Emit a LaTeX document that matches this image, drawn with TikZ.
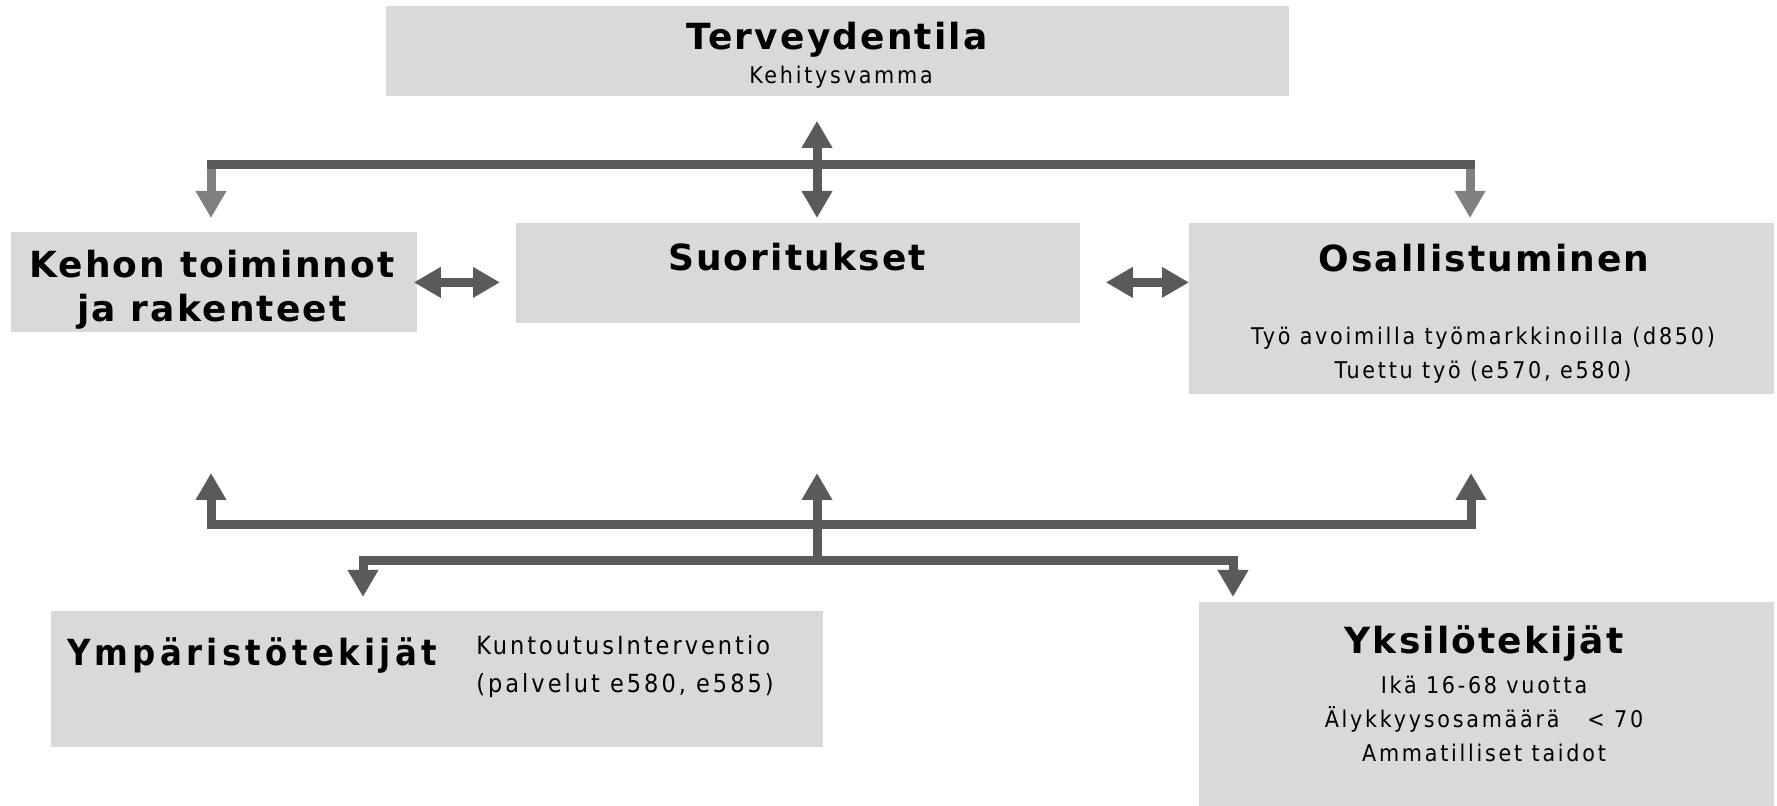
\documentclass[tikz,border=0pt]{standalone}
\usepackage{fontspec}
\setmainfont{DejaVu Sans}
\newfontfamily\titlefont[LetterSpace=6]{DejaVu Sans}
\newfontfamily\narrowfont[LetterSpace=12]{DejaVu Sans Condensed}
\newfontfamily\spacedfont[LetterSpace=12]{DejaVu Sans Condensed}
\usepackage{tikz}
\usetikzlibrary{arrows.meta}
\definecolor{boxgray}{HTML}{D9D9D9}
\definecolor{linkgray}{HTML}{5A5A5A}
\definecolor{sidegray}{HTML}{808080}
\tikzset{
  box/.style={fill=boxgray, inner sep=0pt, anchor=north west},
  title/.style={font=\titlefont\fontsize{18}{22}\selectfont\bfseries, inner sep=0pt},
  subtext/.style={font=\spacedfont\fontsize{11.5}{17}\selectfont, inner sep=0pt},
  link/.style={draw=linkgray, line width=4.5pt},
  sidelink/.style={draw=sidegray, line width=4.5pt},
  tip/.style={-{Triangle[width=14.5pt,length=13.5pt]}},
  bothtips/.style={{Triangle[width=14.5pt,length=13.5pt]}-{Triangle[width=14.5pt,length=13.5pt]}}
}
\begin{document}
\begin{tikzpicture}[x=0.5pt,y=-0.5pt]
\useasboundingbox (0,0) rectangle (1777,806);
% laatikot
\node[box, minimum width=451.5pt, minimum height=45pt] (terv) at (386,6) {};
\node[box, minimum width=203pt, minimum height=50pt] (kehon) at (11,232) {};
\node[box, minimum width=282pt, minimum height=50pt] (suor) at (516,223) {};
\node[box, minimum width=292.5pt, minimum height=85.5pt] (osal) at (1189,223) {};
\node[box, minimum width=386pt, minimum height=68pt] (ymp) at (51,611) {};
\node[box, minimum width=287.5pt, minimum height=102pt] (yks) at (1199,602) {};
% tekstit
\node[title] (tervtitle) at (837,40) {Terveydentila};
\node[subtext] (tervtext) at (841,77) {Kehitysvamma};
\node[title, align=center] (kehontitle) at (212,290) {Kehon toiminnot\\ja rakenteet};
\node[title] (suortitle) at (797,257) {Suoritukset};
\node[title] (osaltitle) at (1484,258) {Osallistuminen};
\node[subtext, align=center] (osaltext) at (1483,355) {Työ avoimilla työmarkkinoilla (d850)\\Tuettu työ (e570, e580)};
\node[title, font=\narrowfont\fontsize{18}{22}\selectfont\bfseries] (ymptitle) at (252,655) {Ympäristötekijät};
\node[subtext, align=left, anchor=west, font=\spacedfont\fontsize{12.5}{19}\selectfont] (ymptext) at (476,667) {KuntoutusInterventio\\(palvelut e580, e585)};
\node[title] (ykstitle) at (1484,643) {Yksilötekijät};
\node[subtext, align=center] (ykstext) at (1484,719) {Ikä 16-68 vuotta\\Älykkyysosamäärä \ \ {<} 70\\Ammatilliset taidot};
% ylempi haarukka
\coordinate (barL) at (211,165);
\coordinate (barC) at (817,165);
\coordinate (barR) at (1470,165);
\draw[link, line cap=rect] (barL) -- (barR);
\draw[sidelink, tip, shorten <=2.25pt, shorten >=7pt] (barL) -- (barL |- kehon.north);
\draw[sidelink, tip, shorten <=2.25pt, shorten >=2.5pt] (barR) -- (barR |- osal.north);
\draw[link, bothtips, shorten <=12pt, shorten >=2.5pt] (barC |- terv.south) -- (barC |- suor.north);
% vaakanuolet
\draw[link, bothtips, shorten <=-2pt, shorten >=8pt] (kehon.east) -- (kehon.east -| suor.west);
\draw[link, bothtips, shorten <=12.5pt] (suor.east |- kehon.east) -- (osal.west |- kehon.east);
% alempi haarukka
\coordinate (lowC) at (817,525);
\coordinate (midC) at (817,561);
\coordinate (upL) at (211,473);
\coordinate (upC) at (817,473);
\coordinate (upR) at (1471,473);
\draw[link, tip] (lowC) -| (upL);
\draw[link, tip] (lowC) -| (upR);
\draw[link, tip] (midC) -- (upC);
\draw[link, tip, shorten >=7pt] (midC) -| (363,611) coordinate (dnL);
\draw[link, tip, shorten >=2.5pt] (midC) -| (1233,602) coordinate (dnR);
\end{tikzpicture}
\end{document}
